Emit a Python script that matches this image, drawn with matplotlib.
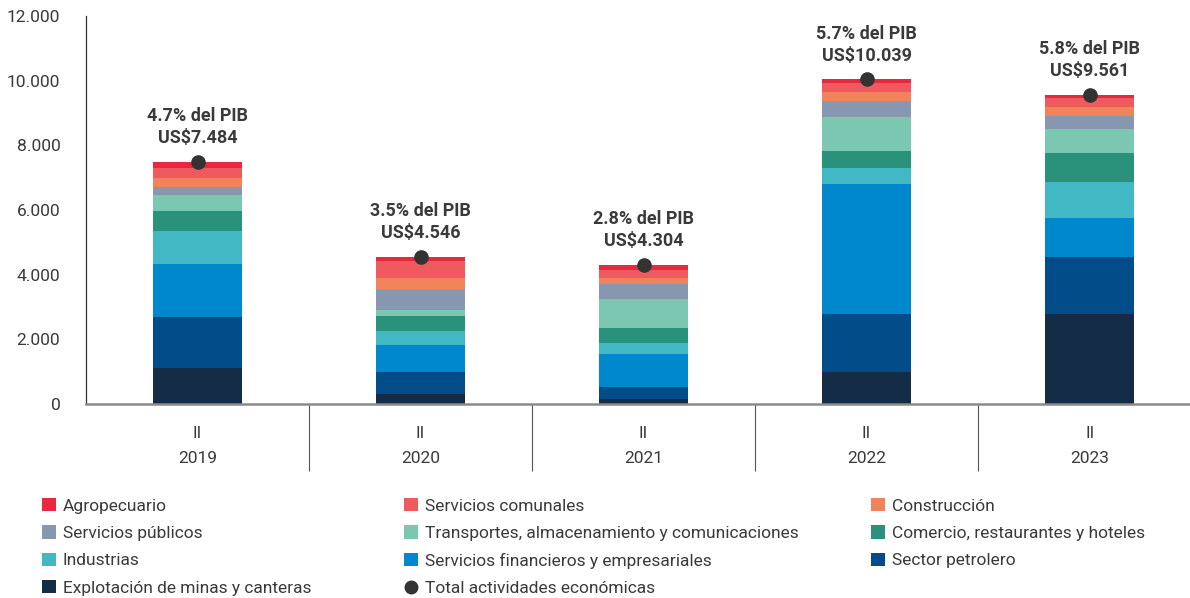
import matplotlib
matplotlib.use("Agg")
import matplotlib.pyplot as plt
from matplotlib.patches import Patch
from matplotlib.lines import Line2D
from matplotlib.ticker import FuncFormatter, FixedLocator

plt.rcParams['font.family'] = ['Roboto', 'DejaVu Sans']

# Inversión por actividad económica, segundo trimestre (millones de US$)
years = ['2019', '2020', '2021', '2022', '2023']
quarter = 'II'
minas = [1104, 319, 155, 999, 2774]
petrolero = [1578, 680, 362, 1775, 1782]
financieros = [1648, 835, 1039, 4040, 1206]
industrias = [1021, 424, 340, 476, 1114]
comercio = [619, 473, 464, 526, 888]
transportes = [495, 176, 897, 1052, 733]
publicos = [238, 650, 455, 513, 411]
construccion = [278, 331, 176, 279, 279]
comunales = [309, 536, 257, 278, 287]
agropecuario = [190, 120, 155, 100, 87]
totales = [7484, 4546, 4304, 10039, 9561]
pct_pib = ['4.7', '3.5', '2.8', '5.7', '5.8']

# stacking order, bottom to top
series = [
    ('Explotación de minas y canteras', minas, '#152C46'),
    ('Sector petrolero', petrolero, '#024C89'),
    ('Servicios financieros y empresariales', financieros, '#0088CC'),
    ('Industrias', industrias, '#41B8C4'),
    ('Comercio, restaurantes y hoteles', comercio, '#2A917A'),
    ('Transportes, almacenamiento y comunicaciones', transportes, '#7BC7B2'),
    ('Servicios públicos', publicos, '#8797B0'),
    ('Construcción', construccion, '#F08359'),
    ('Servicios comunales', comunales, '#EE5A5E'),
    ('Agropecuario', agropecuario, '#E8283F'),
]
total_label = 'Total actividades económicas'
dot_color = '#333333'
text_color = '#3a3a3a'

fig = plt.figure(figsize=(11.9, 5.98), dpi=100)
ax = fig.add_axes([86 / 1190, 194 / 598, 1 - 86 / 1190, 388 / 598])

x = list(range(len(years)))
bottom = [0] * len(years)
colors = {}
for name, vals, col in series:
    ax.bar(x, vals, width=0.40, bottom=bottom, color=col, edgecolor='none', zorder=2)
    bottom = [b + v for b, v in zip(bottom, vals)]
    colors[name] = col

ax.plot(x, totales, 'o', color=dot_color, markersize=9.5, zorder=4)

for xi, tot, p in zip(x, totales, pct_pib):
    txt = f"{p}% del PIB\nUS${tot:,}".replace(',', '.')
    ax.annotate(txt, (xi, tot), xytext=(0, 10.5), textcoords='offset points',
                ha='center', va='bottom', fontsize=13, fontweight='bold',
                color=text_color, linespacing=1.3)

ax.set_xlim(-0.5, 4.45)
ax.set_ylim(0, 12000)
ax.set_yticks(range(0, 12001, 2000))
ax.yaxis.set_major_formatter(FuncFormatter(lambda v, _: f"{int(v):,}".replace(',', '.')))
ax.tick_params(axis='y', length=0, pad=18.5, labelsize=12.5, labelcolor=text_color)

ax.set_xticks(x)
ax.set_xticklabels([f"{quarter}\n{y}" for y in years], linespacing=1.85)
ax.tick_params(axis='x', which='major', length=0, pad=16, labelsize=12.5, labelcolor=text_color)
ax.xaxis.set_minor_locator(FixedLocator([0.5, 1.5, 2.5, 3.5]))
ax.tick_params(axis='x', which='minor', length=48, width=0.8, color='#555555', direction='out')

for s in ['top', 'right']:
    ax.spines[s].set_visible(False)
ax.spines['left'].set_color('#333333')
ax.spines['left'].set_linewidth(0.9)
ax.spines['bottom'].set_color('#8a8a8a')
ax.spines['bottom'].set_linewidth(1.8)

# legend: three columns, filled row by row
legend_rows = [
    ['Agropecuario', 'Servicios públicos', 'Industrias', 'Explotación de minas y canteras'],
    ['Servicios comunales', 'Transportes, almacenamiento y comunicaciones',
     'Servicios financieros y empresariales', total_label],
    ['Construcción', 'Comercio, restaurantes y hoteles', 'Sector petrolero'],
]
col_x = [42 / 1190, 404 / 1190, 871 / 1190]
for cx, names in zip(col_x, legend_rows):
    handles = []
    for n in names:
        if n == total_label:
            handles.append(Line2D([], [], linestyle='none', marker='o', markersize=9,
                                  color=dot_color))
        else:
            handles.append(Patch(facecolor=colors[n], edgecolor='none'))
    leg = fig.legend(handles, names, loc='upper left', bbox_to_anchor=(cx, 0.167),
                     frameon=False, fontsize=12.5, handlelength=0.8, handleheight=0.8,
                     handletextpad=0.4, labelspacing=0.67, borderpad=0, borderaxespad=0)
    for t in leg.get_texts():
        t.set_color(text_color)

fig.savefig('out.png', dpi=100)
